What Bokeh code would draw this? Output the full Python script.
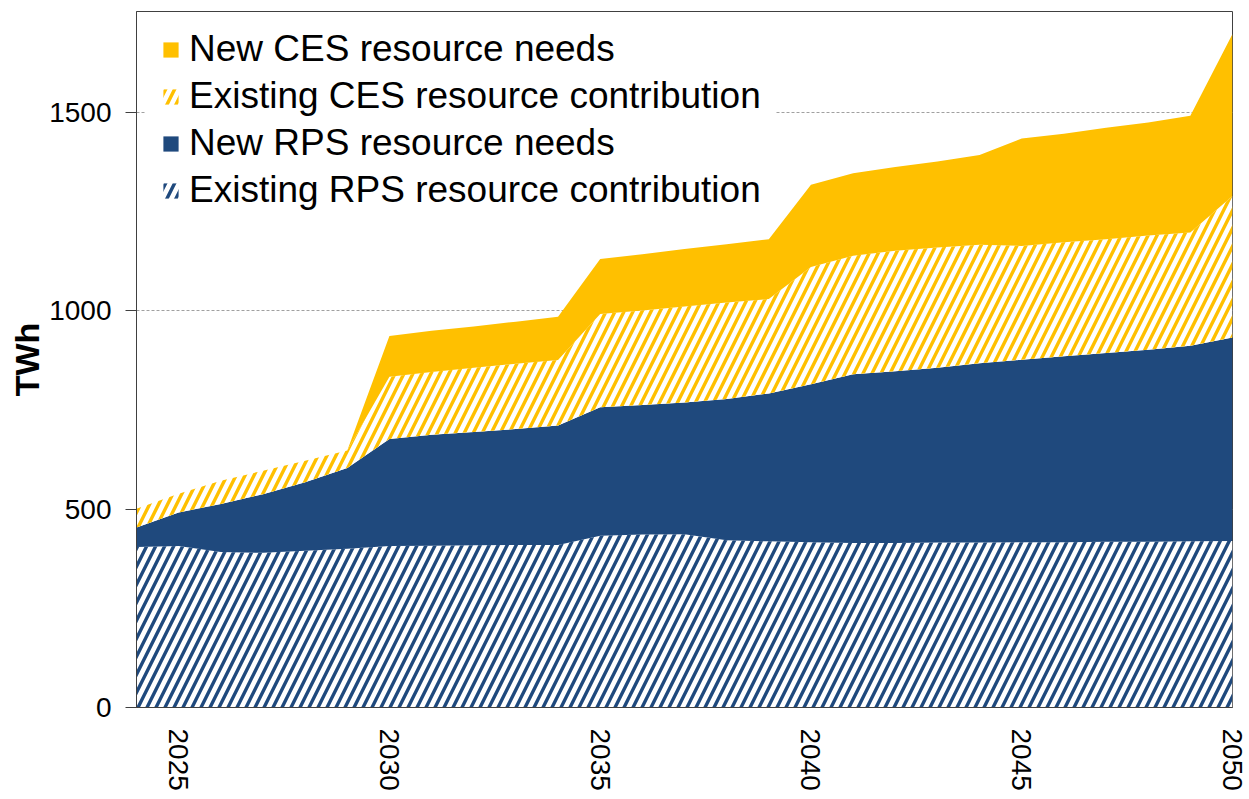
from bokeh.plotting import figure
from bokeh.models import ColumnDataSource, FixedTicker, Legend, LegendItem
from bokeh.transform import stack
from bokeh.embed import file_html
from bokeh.resources import INLINE

# ---- data (TWh) ----
years = list(range(2024, 2051))
existing_rps = [405, 407, 392, 390, 395, 400, 407, 408, 409, 410, 410, 433, 436, 437, 422, 419,
                417, 415, 415, 416, 416, 417, 417, 418, 418, 419, 420]
new_rps = [49, 85, 121, 148, 173, 204, 270, 280, 286, 292, 301, 324, 327, 332, 356, 373,
           398, 425, 433, 441, 452, 460, 469, 476, 484, 493, 513]
existing_ces = [47, 47, 59, 59, 54, 44, 157, 158, 162, 165, 165, 235, 238, 242, 243, 238,
                296, 299, 304, 303, 299, 287, 287, 287, 288, 286, 357]
new_ces = [0, 0, 0, 0, 0, 0, 103, 104, 104, 106, 109, 139, 142, 145, 147, 151,
           207, 208, 211, 217, 226, 271, 274, 281, 285, 294, 408]

series_labels = ["New CES resource needs", "Existing CES resource contribution",
                 "New RPS resource needs", "Existing RPS resource contribution"]
x_ticks = [2025, 2030, 2035, 2040, 2045, 2050]
y_ticks = [0, 500, 1000, 1500]
y_title = "TWh"

NAVY = "#1F497D"
GOLD = "#FFC000"
FONT = "Liberation Sans"

src = ColumnDataSource(dict(year=years, existing_rps=existing_rps, new_rps=new_rps,
                            existing_ces=existing_ces, new_ces=new_ces))

p = figure(width=1249, height=799, x_range=(2024, 2050), y_range=(0, 1755),
           output_backend="svg", toolbar_location=None,
           min_border_left=136, min_border_right=17, min_border_top=11, min_border_bottom=92)

hatch_kw = dict(hatch_pattern="/", hatch_scale=18, hatch_weight=3.4)

r_erps = p.varea(x="year", y1=stack(), y2=stack("existing_rps"), source=src,
                 fill_color="white", hatch_color=NAVY, **hatch_kw)
r_nrps = p.varea(x="year", y1=stack("existing_rps"), y2=stack("existing_rps", "new_rps"),
                 source=src, fill_color=NAVY)
r_eces = p.varea(x="year", y1=stack("existing_rps", "new_rps"),
                 y2=stack("existing_rps", "new_rps", "existing_ces"), source=src,
                 fill_color="white", hatch_color=GOLD, **hatch_kw)
r_nces = p.varea(x="year", y1=stack("existing_rps", "new_rps", "existing_ces"),
                 y2=stack("existing_rps", "new_rps", "existing_ces", "new_ces"),
                 source=src, fill_color=GOLD)

legend = Legend(items=[LegendItem(label=series_labels[0], renderers=[r_nces]),
                       LegendItem(label=series_labels[1], renderers=[r_eces]),
                       LegendItem(label=series_labels[2], renderers=[r_nrps]),
                       LegendItem(label=series_labels[3], renderers=[r_erps])],
                location=(10, 481), margin=0, padding=15, spacing=5,
                glyph_width=19, glyph_height=19, label_standoff=9,
                label_text_font=FONT, label_text_font_size="37px", label_text_color="black",
                background_fill_color="white", background_fill_alpha=1.0,
                border_line_alpha=0)
p.add_layout(legend)

# axes
p.xaxis.ticker = FixedTicker(ticks=x_ticks)
p.xaxis.major_label_orientation = "vertical"
p.xaxis.major_tick_line_color = None
p.xaxis.minor_tick_line_color = None
p.xaxis.major_label_standoff = 15
p.xaxis.major_label_text_font = FONT
p.xaxis.major_label_text_font_size = "28px"
p.xaxis.major_label_text_color = "black"
p.xaxis.axis_line_color = "#404040"

p.yaxis.ticker = FixedTicker(ticks=y_ticks)
p.yaxis.minor_tick_line_color = None
p.yaxis.major_tick_out = 11
p.yaxis.major_tick_in = 0
p.yaxis.major_tick_line_color = "#404040"
p.yaxis.major_label_standoff = 14
p.yaxis.major_label_text_font = FONT
p.yaxis.major_label_text_font_size = "28px"
p.yaxis.major_label_text_color = "black"
p.yaxis.axis_line_color = "#404040"
p.yaxis.axis_label = y_title
p.yaxis.axis_label_text_font = FONT
p.yaxis.axis_label_text_font_size = "34px"
p.yaxis.axis_label_text_font_style = "bold"
p.yaxis.axis_label_text_color = "black"
p.yaxis.axis_label_standoff = 0

p.xgrid.grid_line_color = None
p.ygrid.grid_line_color = "#a0a0a0"
p.ygrid.grid_line_dash = "3 2"
p.ygrid.grid_line_width = 1

p.outline_line_color = "#404040"
p.outline_line_width = 1
p.background_fill_color = "white"
p.border_fill_color = "white"

open("out.html", "w").write(file_html(p, INLINE))
